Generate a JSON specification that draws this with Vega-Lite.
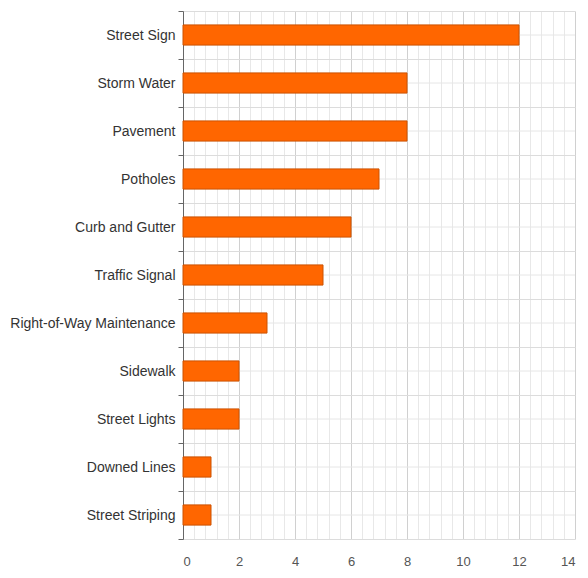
{
  "$schema": "https://vega.github.io/schema/vega-lite/v6.json",
  "autosize": {"type": "none"},
  "padding": {"left": 183, "top": 11, "right": 13, "bottom": 39},
  "width": 392,
  "height": 528,
  "background": "white",
  "config": {"view": {"stroke": null}, "font": "Liberation Sans"},
  "data": {"values": [
    {"category": "Street Sign", "count": 12},
    {"category": "Storm Water", "count": 8},
    {"category": "Pavement", "count": 8},
    {"category": "Potholes", "count": 7},
    {"category": "Curb and Gutter", "count": 6},
    {"category": "Traffic Signal", "count": 5},
    {"category": "Right-of-Way Maintenance", "count": 3},
    {"category": "Sidewalk", "count": 2},
    {"category": "Street Lights", "count": 2},
    {"category": "Downed Lines", "count": 1},
    {"category": "Street Striping", "count": 1}
  ]},
  "encoding": {
    "y": {
      "field": "category", "type": "nominal", "sort": null,
      "scale": {"paddingInner": 0, "paddingOuter": 0},
      "axis": {
        "title": null, "tickBand": "extent", "grid": true, "gridColor": "#dcdcdc", "gridWidth": 1,
        "domainColor": "#666", "tickColor": "#666", "tickSize": 5,
        "labelFont": "Liberation Sans", "labelFontSize": 14, "labelColor": "#333", "labelPadding": 3
      }
    }
  },
  "layer": [
    {
      "mark": {"type": "rule", "color": "#e6e6e6", "strokeWidth": 1},
      "encoding": {}
    },
    {
      "mark": {"type": "bar", "color": "#ff6600", "stroke": "#cc5200", "strokeWidth": 1, "height": {"band": 0.42}},
      "encoding": {
        "x": {
          "field": "count", "type": "quantitative",
          "scale": {"domain": [0, 14], "nice": false},
          "axis": {
            "title": null, "domain": false, "ticks": false, "grid": true, "labelOverlap": false,
            "values": [0,0.4,0.8,1.2,1.6,2,2.4,2.8,3.2,3.6,4,4.4,4.8,5.2,5.6,6,6.4,6.8,7.2,7.6,8,8.4,8.8,9.2,9.6,10,10.4,10.8,11.2,11.6,12,12.4,12.8,13.2,13.6,14],
            "labelExpr": "abs(datum.value - round(datum.value/2)*2) < 0.01 ? format(datum.value, 'd') : ''",
            "gridColor": {"condition": {"test": "abs(datum.value - round(datum.value/2)*2) < 0.01", "value": "#d0d0d0"}, "value": "#e8e8e8"},
            "labelFont": "Liberation Sans", "labelFontSize": 13, "labelColor": "#555", "labelPadding": 16
          }
        }
      }
    }
  ]
}
